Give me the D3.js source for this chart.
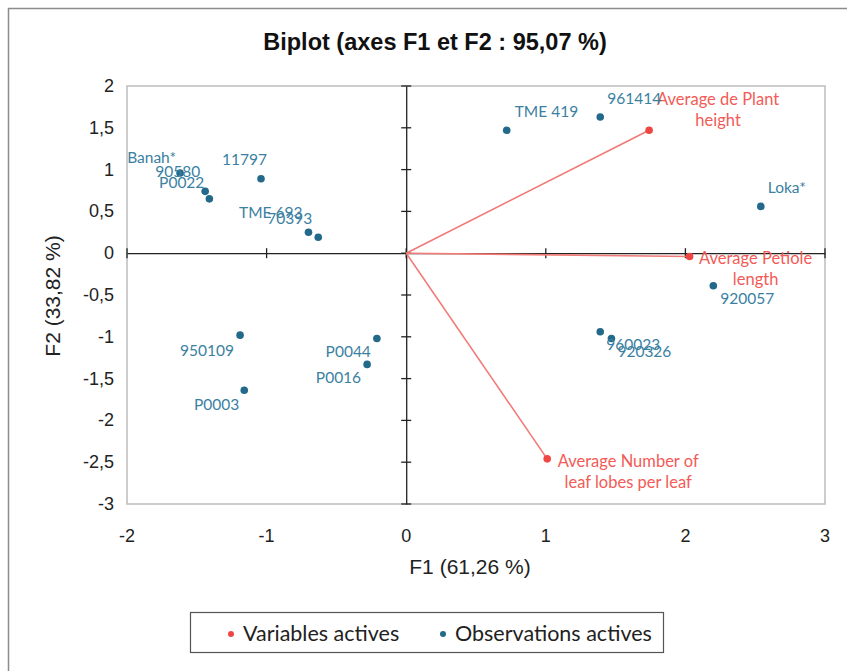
<!DOCTYPE html>
<html>
<head>
<meta charset="utf-8">
<script src="https://cdn.jsdelivr.net/npm/d3@7"></script>
<style>
  body { margin: 0; background: #fff; }
  svg { display: block; }
</style>
</head>
<body>
<svg id="svg"></svg>
<script>
// observations (F1, F2)
const obsNames = ['Banah*', '90580', 'P0022', '11797', 'TME 693', '70393', 'TME 419', '961414',
  'Loka*', '920057', '960023', '920326', '950109', 'P0044', 'P0016', 'P0003'];
const obsF1 = [-1.62, -1.44, -1.41, -1.04, -0.70, -0.63, 0.72, 1.39, 2.54, 2.20, 1.39, 1.47, -1.19, -0.21, -0.28, -1.16];
const obsF2 = [0.96, 0.74, 0.65, 0.89, 0.25, 0.19, 1.47, 1.63, 0.56, -0.39, -0.94, -1.02, -0.98, -1.02, -1.33, -1.64];

// variables (F1, F2)
const varNames = [['Average de Plant', 'height'], ['Average Petiole', 'length'], ['Average Number of', 'leaf lobes per leaf']];
const varF1 = [1.74, 2.03, 1.01];
const varF2 = [1.47, -0.04, -2.46];

const xTicks = [-2, -1, 0, 1, 2, 3];
const yTicks = [2, 1.5, 1, 0.5, 0, -0.5, -1, -1.5, -2, -2.5, -3];

// label placement (dx, dy from the point, anchor)
const obsLabelPos = [
  [-4, -10, 'end'], [-5, -14, 'end'], [-5, -11, 'end'], [6, -14, 'end'], [-6, -14, 'end'], [-6, -13, 'end'],
  [8, -13, 'start'], [7, -13, 'start'], [7, -13, 'start'], [7, 18, 'start'], [6, 18, 'start'], [6, 19, 'start'],
  [-6, 21, 'end'], [-6, 19, 'end'], [-6, 19, 'end'], [-5, 20, 'end']
];
const varLabelPos = [[69, -25], [66, 7], [81, 8]];

const blue = '#23698a';
const blueText = '#3b7fa1';
const red = '#ee4743';
const redLine = '#f07a76';
const redText = '#f25b57';
const fmt = v => String(v).replace('.', ',');

const width = 847, height = 671;
const svg = d3.select('#svg').attr('width', width).attr('height', height);

// outer border
svg.append('rect')
  .attr('x', 8.5).attr('y', 8.5).attr('width', 860).attr('height', 700)
  .attr('fill', 'none').attr('stroke', '#8c8c8c').attr('stroke-width', 1.5);

svg.append('text')
  .attr('x', 435).attr('y', 50)
  .attr('text-anchor', 'middle')
  .style('font-family', '"Liberation Sans", Arial, sans-serif')
  .style('font-weight', 'bold').style('font-size', '23.5px')
  .attr('fill', '#111')
  .text('Biplot (axes F1 et F2 : 95,07 %)');

const x = d3.scaleLinear().domain([-2, 3]).range([127, 825]);
const y = d3.scaleLinear().domain([-3, 2]).range([504, 86]);

// plot frame
svg.append('rect')
  .attr('x', x(-2)).attr('y', y(2))
  .attr('width', x(3) - x(-2)).attr('height', y(-3) - y(2))
  .attr('fill', 'none').attr('stroke', '#bdbdbd').attr('stroke-width', 1.5);

// zero axes with cross ticks
const xAxis = d3.axisBottom(x).tickValues(xTicks).tickSize(0).tickFormat('');
const yAxis = d3.axisLeft(y).tickValues(yTicks).tickSize(0).tickFormat('');
svg.append('g').attr('transform', `translate(0,${y(0)})`).call(xAxis)
  .call(g => g.select('.domain').attr('stroke', '#222').attr('stroke-width', 1.3));
svg.append('g').attr('transform', `translate(${x(0)},0)`).call(yAxis)
  .call(g => g.select('.domain').attr('stroke', '#222').attr('stroke-width', 1.3));

svg.append('g').selectAll('line').data(yTicks).join('line')
  .attr('x1', x(0) - 5).attr('x2', x(0) + 5)
  .attr('y1', d => y(d)).attr('y2', d => y(d))
  .attr('stroke', '#222').attr('stroke-width', 1.3);
svg.append('g').selectAll('line').data(xTicks).join('line')
  .attr('x1', d => x(d)).attr('x2', d => x(d))
  .attr('y1', y(0) - 5).attr('y2', y(0) + 5)
  .attr('stroke', '#222').attr('stroke-width', 1.3);

// tick labels (low position)
const tickFont = '"Liberation Sans Narrow", "Liberation Sans", Arial, sans-serif';
svg.append('g').selectAll('text').data(yTicks).join('text')
  .attr('x', 114).attr('y', d => y(d) + 6)
  .attr('text-anchor', 'end')
  .style('font-family', tickFont).style('font-size', '18px').attr('fill', '#222')
  .text(d => fmt(d));
svg.append('g').selectAll('text').data(xTicks).join('text')
  .attr('x', d => x(d)).attr('y', 542)
  .attr('text-anchor', 'middle')
  .style('font-family', tickFont).style('font-size', '18px').attr('fill', '#222')
  .text(d => fmt(d));

// axis titles
const titleFont = '"Liberation Sans", Arial, sans-serif';
svg.append('text')
  .attr('x', 470).attr('y', 574)
  .attr('text-anchor', 'middle')
  .style('font-family', titleFont).style('font-size', '21px').attr('fill', '#222')
  .text('F1 (61,26 %)');
svg.append('text')
  .attr('transform', 'translate(60,296) rotate(-90)')
  .attr('text-anchor', 'middle')
  .style('font-family', titleFont).style('font-size', '21px').attr('fill', '#222')
  .text('F2 (33,82 %)');

// variable vectors
const labelFont = 'Lato, "Open Sans", sans-serif';
const vars = varNames.map((n, i) => ({name: n, f1: varF1[i], f2: varF2[i], pos: varLabelPos[i]}));
svg.append('g').selectAll('line').data(vars).join('line')
  .attr('x1', x(0)).attr('y1', y(0))
  .attr('x2', d => x(d.f1)).attr('y2', d => y(d.f2))
  .attr('stroke', redLine).attr('stroke-width', 1.6);
svg.append('g').selectAll('circle').data(vars).join('circle')
  .attr('cx', d => x(d.f1)).attr('cy', d => y(d.f2)).attr('r', 3.8)
  .attr('fill', red);
const vText = svg.append('g').selectAll('text').data(vars).join('text')
  .attr('text-anchor', 'middle')
  .style('font-family', labelFont).style('font-size', '16.5px').attr('fill', redText);
vText.each(function(d) {
  const t = d3.select(this);
  d.name.forEach((line, k) => {
    t.append('tspan')
      .attr('x', x(d.f1) + d.pos[0])
      .attr('y', y(d.f2) + d.pos[1] + k * 21)
      .text(line);
  });
});

// observations
const obs = obsNames.map((n, i) => ({name: n, f1: obsF1[i], f2: obsF2[i], pos: obsLabelPos[i]}));
svg.append('g').selectAll('circle').data(obs).join('circle')
  .attr('cx', d => x(d.f1)).attr('cy', d => y(d.f2)).attr('r', 3.8)
  .attr('fill', blue);
svg.append('g').selectAll('text').data(obs).join('text')
  .attr('x', d => x(d.f1) + d.pos[0])
  .attr('y', d => y(d.f2) + d.pos[1])
  .attr('text-anchor', d => d.pos[2])
  .style('font-family', labelFont).style('font-size', '15.5px').attr('fill', blueText)
  .text(d => d.name);

// legend
const legend = svg.append('g');
legend.append('rect')
  .attr('x', 190.5).attr('y', 612.5).attr('width', 473).attr('height', 40)
  .attr('fill', '#fff').attr('stroke', '#555').attr('stroke-width', 1.2);
const legendItems = [
  {label: 'Variables actives', color: red, x: 231},
  {label: 'Observations actives', color: blue, x: 443}
];
legend.selectAll('circle').data(legendItems).join('circle')
  .attr('cx', d => d.x).attr('cy', 634).attr('r', 3)
  .attr('fill', d => d.color);
legend.selectAll('text').data(legendItems).join('text')
  .attr('x', d => d.x + 12).attr('y', 641)
  .style('font-family', labelFont).style('font-size', '21.5px').attr('fill', '#222')
  .text(d => d.label);
</script>
</body>
</html>
